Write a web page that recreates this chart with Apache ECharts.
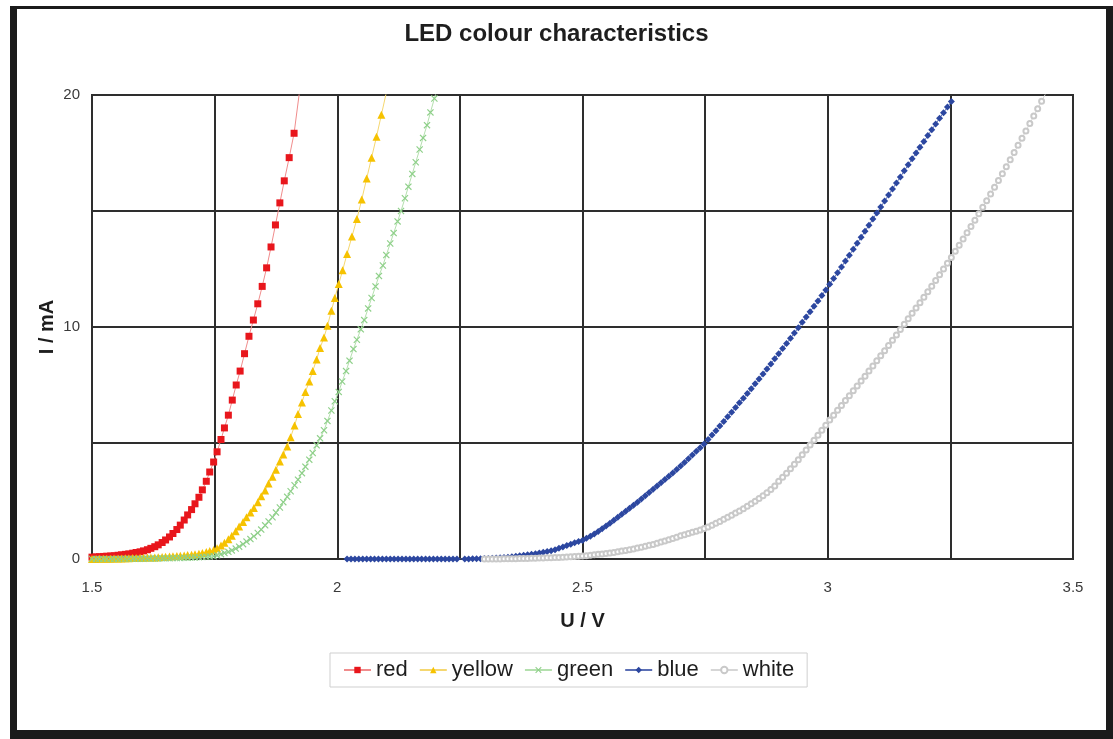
<!DOCTYPE html>
<html>
<head>
<meta charset="utf-8">
<script src="https://cdn.jsdelivr.net/npm/echarts@6/dist/echarts.min.js"></script>
<style>
html,body{margin:0;padding:0;width:1113px;height:739px;background:#ffffff;overflow:hidden;}
#frame{position:absolute;left:10px;top:6px;width:1103px;height:733px;background:#1b1b1b;}
#paper{position:absolute;left:17px;top:9px;width:1089px;height:721px;background:#ffffff;}
#chart{position:absolute;left:0;top:0;width:1113px;height:739px;}
</style>
</head>
<body>
<div id="frame"></div>
<div id="paper"></div>
<div id="chart"></div>
<script>
// ---- data (U in V, I in mA) ----
const xTicks = [1.5, 2, 2.5, 3, 3.5];
const yTicks = [0, 10, 20];
const seriesNames = ['red', 'yellow', 'green', 'blue', 'white'];

const redData = [
[1.500,0.08],[1.508,0.09],[1.515,0.10],[1.523,0.11],[1.530,0.12],[1.538,0.13],[1.545,0.14],[1.553,0.16],
[1.560,0.18],[1.568,0.20],[1.575,0.22],[1.583,0.25],[1.590,0.28],[1.598,0.31],[1.605,0.35],[1.613,0.40],
[1.620,0.46],[1.628,0.53],[1.635,0.61],[1.643,0.71],[1.650,0.82],[1.658,0.95],[1.665,1.10],[1.673,1.27],
[1.680,1.46],[1.688,1.68],[1.695,1.90],[1.703,2.13],[1.710,2.38],[1.718,2.66],[1.725,2.98],[1.733,3.35],
[1.740,3.75],[1.748,4.18],[1.755,4.62],[1.763,5.15],[1.770,5.65],[1.778,6.20],[1.786,6.85],[1.794,7.50],
[1.802,8.10],[1.811,8.85],[1.820,9.60],[1.829,10.30],[1.838,11.00],[1.847,11.75],[1.856,12.55],[1.865,13.45],
[1.874,14.40],[1.883,15.35],[1.892,16.30],[1.902,17.30],[1.912,18.35],[1.924,20.30]
];

const yellowData = [
[1.500,0.00],[1.508,0.00],[1.515,0.01],[1.523,0.01],[1.530,0.01],[1.538,0.01],[1.545,0.02],[1.553,0.02],
[1.560,0.02],[1.568,0.03],[1.575,0.03],[1.583,0.04],[1.590,0.04],[1.598,0.05],[1.605,0.05],[1.613,0.06],
[1.620,0.07],[1.628,0.07],[1.635,0.08],[1.643,0.09],[1.650,0.10],[1.658,0.11],[1.665,0.12],[1.673,0.13],
[1.680,0.14],[1.688,0.15],[1.695,0.17],[1.703,0.18],[1.710,0.20],[1.718,0.23],[1.725,0.26],[1.733,0.30],
[1.740,0.34],[1.748,0.39],[1.755,0.46],[1.763,0.58],[1.770,0.70],[1.778,0.85],[1.785,1.00],[1.793,1.20],
[1.800,1.40],[1.808,1.60],[1.815,1.80],[1.823,2.00],[1.830,2.20],[1.838,2.45],[1.845,2.70],[1.853,2.95],
[1.860,3.25],[1.868,3.55],[1.875,3.85],[1.883,4.20],[1.890,4.50],[1.898,4.85],[1.905,5.25],[1.913,5.75],
[1.920,6.25],[1.928,6.75],[1.935,7.20],[1.943,7.65],[1.950,8.10],[1.958,8.60],[1.965,9.10],[1.973,9.55],
[1.980,10.05],[1.988,10.70],[1.995,11.25],[2.003,11.85],[2.011,12.45],[2.020,13.15],[2.030,13.90],[2.040,14.65],
[2.050,15.50],[2.060,16.40],[2.070,17.30],[2.080,18.20],[2.090,19.15],[2.100,20.10]
];

const greenData = [
[1.500,0.00],[1.508,0.00],[1.515,0.00],[1.523,0.00],[1.530,0.00],[1.538,0.00],[1.545,0.00],[1.553,0.00],
[1.560,0.01],[1.568,0.01],[1.575,0.01],[1.583,0.01],[1.590,0.01],[1.598,0.01],[1.605,0.01],[1.613,0.02],
[1.620,0.02],[1.628,0.02],[1.635,0.02],[1.643,0.03],[1.650,0.03],[1.658,0.03],[1.665,0.04],[1.673,0.04],
[1.680,0.04],[1.688,0.05],[1.695,0.05],[1.703,0.06],[1.710,0.07],[1.718,0.08],[1.725,0.09],[1.733,0.10],
[1.740,0.11],[1.748,0.12],[1.755,0.16],[1.763,0.21],[1.770,0.26],[1.778,0.31],[1.785,0.37],[1.793,0.45],
[1.800,0.53],[1.808,0.64],[1.815,0.75],[1.823,0.86],[1.830,0.98],[1.838,1.12],[1.845,1.27],[1.853,1.45],
[1.860,1.62],[1.868,1.80],[1.875,2.00],[1.883,2.22],[1.890,2.45],[1.898,2.68],[1.905,2.92],[1.913,3.18],
[1.920,3.42],[1.928,3.70],[1.935,3.98],[1.943,4.28],[1.950,4.57],[1.958,4.90],[1.965,5.20],[1.973,5.55],
[1.980,5.95],[1.988,6.40],[1.995,6.80],[2.003,7.20],[2.010,7.65],[2.018,8.10],[2.025,8.55],[2.033,9.05],
[2.040,9.45],[2.048,9.90],[2.055,10.30],[2.063,10.80],[2.070,11.25],[2.078,11.75],[2.085,12.20],[2.093,12.65],
[2.100,13.10],[2.108,13.60],[2.115,14.05],[2.123,14.55],[2.130,15.00],[2.138,15.55],[2.145,16.05],[2.153,16.60],
[2.160,17.10],[2.168,17.65],[2.175,18.15],[2.183,18.70],[2.190,19.25],[2.198,19.85],[2.205,20.35]
];

const blueData = [
[2.020,0.00],[2.028,0.00],[2.036,0.00],[2.044,0.00],[2.052,0.00],[2.060,0.00],[2.068,0.00],[2.076,0.00],
[2.084,0.00],[2.092,0.00],[2.100,0.00],[2.108,0.00],[2.116,0.00],[2.124,0.00],[2.132,0.00],[2.140,0.00],
[2.148,0.00],[2.156,0.00],[2.164,0.00],[2.172,0.00],[2.180,0.00],[2.188,0.00],[2.196,0.00],[2.204,0.00],
[2.212,0.00],[2.220,0.00],[2.228,0.00],[2.236,0.00],[2.244,0.00],[2.260,0.00],[2.268,0.00],[2.276,0.01],
[2.284,0.01],[2.292,0.01],[2.300,0.02],[2.308,0.02],[2.316,0.03],[2.324,0.04],[2.332,0.05],[2.340,0.06],
[2.348,0.08],[2.356,0.10],[2.364,0.12],[2.372,0.14],[2.380,0.16],[2.388,0.18],[2.396,0.20],[2.404,0.23],
[2.412,0.26],[2.420,0.29],[2.428,0.32],[2.436,0.36],[2.444,0.40],[2.452,0.46],[2.460,0.52],[2.468,0.58],
[2.476,0.64],[2.484,0.70],[2.492,0.75],[2.500,0.80],[2.508,0.89],[2.516,0.98],[2.524,1.08],[2.532,1.19],
[2.540,1.30],[2.548,1.42],[2.556,1.54],[2.564,1.67],[2.572,1.80],[2.580,1.93],[2.588,2.06],[2.596,2.19],
[2.604,2.32],[2.612,2.45],[2.620,2.59],[2.628,2.73],[2.636,2.87],[2.644,3.01],[2.652,3.15],[2.660,3.29],
[2.668,3.43],[2.676,3.57],[2.684,3.71],[2.692,3.86],[2.700,4.01],[2.708,4.16],[2.716,4.32],[2.724,4.48],
[2.732,4.64],[2.740,4.80],[2.748,4.96],[2.756,5.15],[2.764,5.34],[2.772,5.53],[2.780,5.73],[2.788,5.93],
[2.796,6.13],[2.804,6.33],[2.812,6.53],[2.820,6.73],[2.828,6.93],[2.836,7.13],[2.844,7.34],[2.852,7.55],
[2.860,7.76],[2.868,7.97],[2.876,8.19],[2.884,8.41],[2.892,8.63],[2.900,8.85],[2.908,9.07],[2.916,9.29],
[2.924,9.51],[2.932,9.74],[2.940,9.97],[2.948,10.20],[2.956,10.43],[2.964,10.66],[2.972,10.89],[2.980,11.12],
[2.988,11.36],[2.996,11.60],[3.004,11.84],[3.012,12.09],[3.020,12.34],[3.028,12.59],[3.036,12.84],[3.044,13.09],
[3.052,13.35],[3.060,13.61],[3.068,13.87],[3.076,14.13],[3.084,14.39],[3.092,14.65],[3.100,14.91],[3.108,15.17],
[3.116,15.43],[3.124,15.69],[3.132,15.95],[3.140,16.21],[3.148,16.47],[3.156,16.73],[3.164,16.99],[3.172,17.25],
[3.180,17.50],[3.188,17.75],[3.196,18.00],[3.204,18.25],[3.212,18.50],[3.220,18.75],[3.228,19.00],[3.236,19.24],
[3.244,19.48],[3.252,19.72]
];

const whiteData = [
[2.300,0.00],[2.308,0.00],[2.316,0.00],[2.324,0.00],[2.332,0.00],[2.340,0.01],[2.348,0.01],[2.356,0.01],
[2.364,0.01],[2.372,0.02],[2.380,0.02],[2.388,0.02],[2.396,0.03],[2.404,0.03],[2.412,0.04],[2.420,0.04],
[2.428,0.05],[2.436,0.05],[2.444,0.06],[2.452,0.07],[2.460,0.08],[2.468,0.09],[2.476,0.10],[2.484,0.11],
[2.492,0.12],[2.500,0.13],[2.508,0.14],[2.516,0.16],[2.524,0.18],[2.532,0.20],[2.540,0.22],[2.548,0.24],
[2.556,0.26],[2.564,0.28],[2.572,0.31],[2.580,0.34],[2.588,0.37],[2.596,0.40],[2.604,0.43],[2.612,0.47],
[2.620,0.51],[2.628,0.55],[2.636,0.59],[2.644,0.63],[2.652,0.68],[2.660,0.73],[2.668,0.78],[2.676,0.83],
[2.684,0.88],[2.692,0.94],[2.700,1.00],[2.708,1.05],[2.716,1.10],[2.724,1.15],[2.732,1.20],[2.740,1.25],
[2.748,1.31],[2.756,1.38],[2.764,1.46],[2.772,1.54],[2.780,1.62],[2.788,1.71],[2.796,1.80],[2.804,1.89],
[2.812,1.98],[2.820,2.07],[2.828,2.17],[2.836,2.27],[2.844,2.38],[2.852,2.49],[2.860,2.61],[2.868,2.73],
[2.876,2.86],[2.884,3.00],[2.892,3.15],[2.900,3.35],[2.908,3.52],[2.916,3.70],[2.924,3.89],[2.932,4.08],
[2.940,4.28],[2.948,4.49],[2.956,4.70],[2.964,4.91],[2.972,5.12],[2.980,5.33],[2.988,5.55],[2.996,5.77],
[3.004,5.99],[3.012,6.20],[3.020,6.41],[3.028,6.62],[3.036,6.83],[3.044,7.04],[3.052,7.25],[3.060,7.46],
[3.068,7.67],[3.076,7.88],[3.084,8.10],[3.092,8.32],[3.100,8.54],[3.108,8.76],[3.116,8.98],[3.124,9.20],
[3.132,9.43],[3.140,9.66],[3.148,9.89],[3.156,10.12],[3.164,10.36],[3.172,10.59],[3.180,10.82],[3.188,11.05],
[3.196,11.28],[3.204,11.52],[3.212,11.76],[3.220,12.00],[3.228,12.25],[3.236,12.50],[3.244,12.75],[3.252,13.00],
[3.260,13.26],[3.268,13.52],[3.276,13.79],[3.284,14.06],[3.292,14.33],[3.300,14.60],[3.308,14.88],[3.316,15.16],
[3.324,15.44],[3.332,15.73],[3.340,16.02],[3.348,16.31],[3.356,16.61],[3.364,16.91],[3.372,17.21],[3.380,17.52],
[3.388,17.83],[3.396,18.14],[3.404,18.45],[3.412,18.77],[3.420,19.09],[3.428,19.41],[3.436,19.73],[3.444,20.05]
];

// ---- styles ----
const FONT = '"Liberation Sans", Arial, sans-serif';
const crossPath = 'path://M0,1.2 L1.2,0 L5,3.8 L8.8,0 L10,1.2 L6.2,5 L10,8.8 L8.8,10 L5,6.2 L1.2,10 L0,8.8 L3.8,5 Z';
const styles = {
  red:    {symbol: 'rect', size: 7, color: '#e8161c', line: '#f08c8c'},
  yellow: {symbol: 'triangle', size: 8, color: '#f6c200', line: '#f5d770'},
  green:  {symbol: crossPath, size: 7, color: '#8fd08a', line: '#b4e0ae'},
  blue:   {symbol: 'diamond', size: 7, color: '#2c47a0', line: '#5b6fb5'},
  white:  {symbol: 'emptyCircle', size: 5, color: '#c9c9c9', line: '#d6d6d6'}
};
const dataByName = {red: redData, yellow: yellowData, green: greenData, blue: blueData, white: whiteData};

const series = seriesNames.map(n => ({
  name: n,
  type: 'line',
  data: dataByName[n],
  symbol: styles[n].symbol,
  symbolSize: styles[n].size,
  showAllSymbol: true,
  clip: true,
  itemStyle: {color: styles[n].color, borderWidth: n === 'white' ? 1 : 0},
  lineStyle: {color: styles[n].line, width: 1},
  emphasis: {disabled: true}
}));

const GRID_COLOR = '#2e2e2e';
const chart = echarts.init(document.getElementById('chart'), null, {renderer: 'canvas'});
chart.setOption({
  animation: false,
  backgroundColor: 'transparent',
  title: {
    text: 'LED colour characteristics',
    left: 'center',
    top: 17,
    textStyle: {fontFamily: FONT, fontSize: 24, fontWeight: 'bold', color: '#1e1e1e'}
  },
  legend: {
    data: seriesNames,
    left: 330,
    top: 653,
    borderColor: '#cfcfcf',
    borderWidth: 1,
    padding: [6, 13, 6, 13],
    itemGap: 11,
    itemWidth: 27,
    itemHeight: 8,
    textStyle: {fontFamily: FONT, fontSize: 22, color: '#1e1e1e'}
  },
  grid: {
    left: 92, right: 40, top: 95, bottom: 180,
    show: true, borderColor: GRID_COLOR, borderWidth: 2, backgroundColor: 'transparent'
  },
  xAxis: {
    type: 'value',
    min: 1.5, max: 3.5, interval: 0.25,
    name: 'U / V',
    nameLocation: 'middle',
    nameGap: 52,
    nameMoveOverlap: false,
    nameTextStyle: {fontFamily: FONT, fontSize: 20, fontWeight: 'bold', color: '#1e1e1e'},
    axisLine: {show: true, lineStyle: {color: GRID_COLOR, width: 2}},
    axisTick: {show: false},
    splitLine: {show: true, lineStyle: {color: GRID_COLOR, width: 2}},
    axisLabel: {
      margin: 21,
      fontFamily: FONT, fontSize: 15, color: '#3a3a3a',
      formatter: v => {
        const hit = xTicks.find(t => Math.abs(t - v) < 1e-6);
        return hit === undefined ? '' : String(hit);
      }
    }
  },
  yAxis: {
    type: 'value',
    min: 0, max: 20, interval: 5,
    name: 'I / mA',
    nameLocation: 'middle',
    nameGap: 35,
    nameRotate: 90,
    nameMoveOverlap: false,
    nameTextStyle: {fontFamily: FONT, fontSize: 20, fontWeight: 'bold', color: '#1e1e1e'},
    axisLine: {show: true, lineStyle: {color: GRID_COLOR, width: 2}},
    axisTick: {show: false},
    splitLine: {show: true, lineStyle: {color: GRID_COLOR, width: 2}},
    axisLabel: {
      margin: 12,
      fontFamily: FONT, fontSize: 15, color: '#3a3a3a',
      formatter: v => {
        const hit = yTicks.find(t => Math.abs(t - v) < 1e-6);
        return hit === undefined ? '' : String(hit);
      }
    }
  },
  series: series
});
</script>
</body>
</html>
